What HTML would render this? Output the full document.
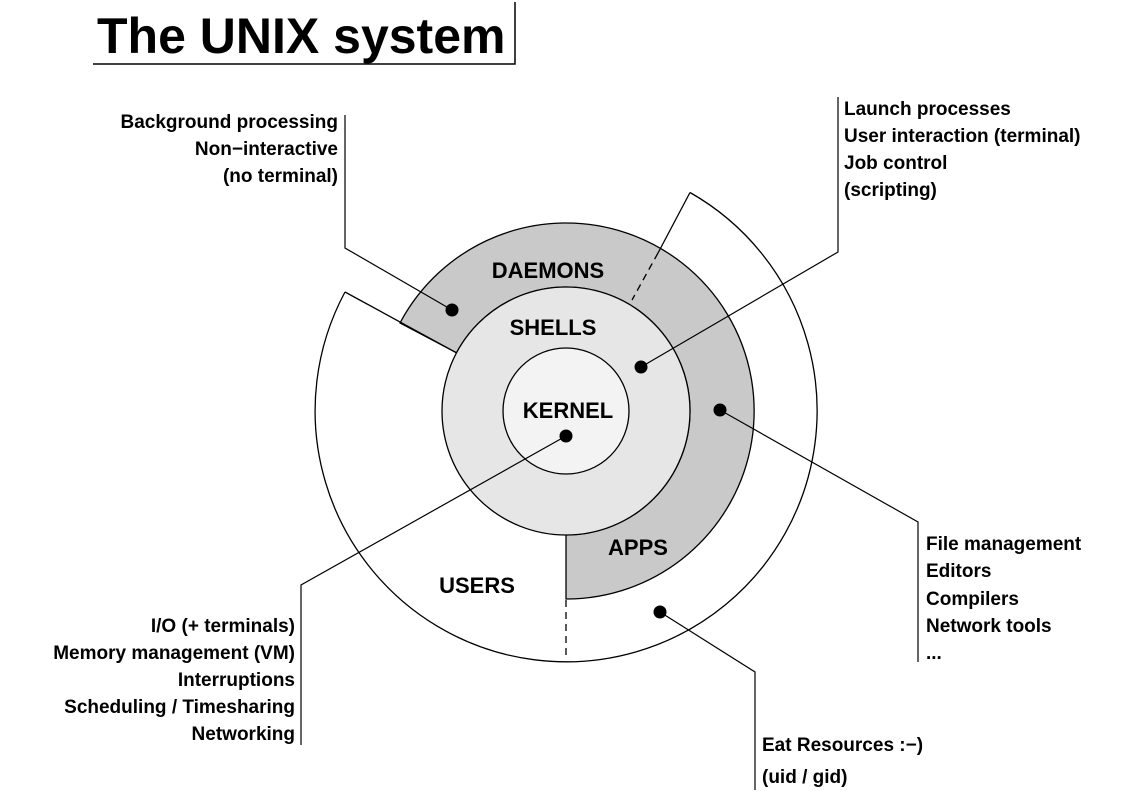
<!DOCTYPE html>
<html><head><meta charset="utf-8"><style>
html,body{margin:0;padding:0;background:#fff;}
svg{display:block;}
text{font-family:"Liberation Sans",Arial,sans-serif;font-weight:bold;fill:#000;}
</style></head><body>
<svg width="1125" height="791" viewBox="0 0 1125 791" xmlns="http://www.w3.org/2000/svg">
<rect width="1125" height="791" fill="#fff"/>
<!-- title -->
<text x="97" y="53" font-size="50">The UNIX system</text>
<polyline points="93,64 515,64 515,2" fill="none" stroke="#000" stroke-width="1.5"/>

<!-- users outer arc -->
<path d="M345,292 A251,251 0 1 0 690,192.5" fill="none" stroke="#000" stroke-width="1.3"/>
<!-- gray daemons/apps ring -->
<path d="M566,599 A188,188 0 1 0 400,323 L456.5,352.8 A124,124 0 1 1 566,535 Z" fill="#c9c9c9" stroke="#000" stroke-width="1.3"/>
<!-- shells -->
<circle cx="566" cy="411" r="124" fill="#e6e6e6" stroke="#000" stroke-width="1.3"/>
<!-- kernel -->
<circle cx="566" cy="411" r="63" fill="#f3f3f3" stroke="#000" stroke-width="1.3"/>
<!-- users boundary lines -->
<line x1="345" y1="292" x2="456.5" y2="352.8" stroke="#000" stroke-width="1.3"/>
<line x1="690" y1="192.5" x2="658" y2="253" stroke="#000" stroke-width="1.3"/>
<line x1="658" y1="253" x2="632" y2="300" stroke="#000" stroke-width="1.3" stroke-dasharray="7,5"/>
<line x1="566" y1="600" x2="566" y2="660" stroke="#000" stroke-width="1.3" stroke-dasharray="7,5"/>

<!-- connectors -->
<polyline points="345,115 345,248 452,310" fill="none" stroke="#000" stroke-width="1.2"/>
<polyline points="641,367 838,252 838,97" fill="none" stroke="#000" stroke-width="1.2"/>
<polyline points="720,410 918,522 918,662" fill="none" stroke="#000" stroke-width="1.2"/>
<polyline points="660,612 755,672 755,790" fill="none" stroke="#000" stroke-width="1.2"/>
<polyline points="566,436 301,585 301,745" fill="none" stroke="#000" stroke-width="1.2"/>
<circle cx="452" cy="310" r="6.5" fill="#000"/>
<circle cx="641" cy="367" r="6.5" fill="#000"/>
<circle cx="720" cy="410" r="6.5" fill="#000"/>
<circle cx="660" cy="612" r="6.5" fill="#000"/>
<circle cx="566" cy="436" r="6.5" fill="#000"/>

<!-- ring labels -->
<g font-size="22" text-anchor="middle">
<text x="548" y="278">DAEMONS</text>
<text x="553" y="335">SHELLS</text>
<text x="568" y="418">KERNEL</text>
<text x="638" y="555">APPS</text>
<text x="477" y="593">USERS</text>
</g>

<!-- side labels -->
<g font-size="19" text-anchor="end">
<text x="338" y="128">Background processing</text>
<text x="338" y="155">Non−interactive</text>
<text x="338" y="182">(no terminal)</text>
<text x="295" y="632">I/O (+ terminals)</text>
<text x="295" y="659">Memory management (VM)</text>
<text x="295" y="686">Interruptions</text>
<text x="295" y="713">Scheduling / Timesharing</text>
<text x="295" y="740">Networking</text>
</g>
<g font-size="19">
<text x="844" y="115">Launch processes</text>
<text x="844" y="142">User interaction (terminal)</text>
<text x="844" y="169">Job control</text>
<text x="844" y="196">(scripting)</text>
<text x="926" y="550">File management</text>
<text x="926" y="577">Editors</text>
<text x="926" y="605">Compilers</text>
<text x="926" y="632">Network tools</text>
<text x="926" y="659">...</text>
<text x="762" y="751">Eat Resources :−)</text>
<text x="762" y="783">(uid / gid)</text>
</g>
</svg>
</body></html>
